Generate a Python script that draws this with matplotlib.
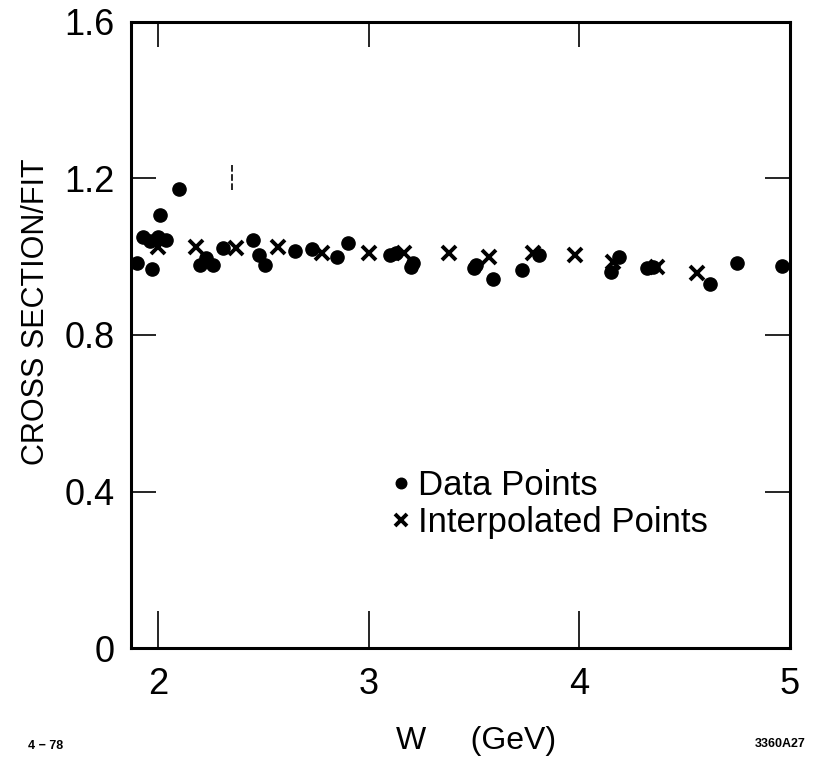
import matplotlib
matplotlib.use("Agg")
import matplotlib.pyplot as plt

plt.rcParams['font.family'] = ['Liberation Sans', 'DejaVu Sans']

# measured points (W in GeV, cross section / fit)
data_w = [1.90, 1.93, 1.96, 1.97, 2.00, 2.01, 2.04, 2.10, 2.20, 2.23, 2.26,
          2.31, 2.45, 2.48, 2.51, 2.65, 2.73, 2.85, 2.90, 3.10, 3.13, 3.20,
          3.21, 3.50, 3.51, 3.59, 3.73, 3.81, 4.15, 4.19, 4.32, 4.35, 4.62,
          4.75, 4.96]
data_r = [0.985, 1.05, 1.04, 0.968, 1.05, 1.107, 1.043, 1.173, 0.979, 0.997,
          0.979, 1.022, 1.043, 1.004, 0.979, 1.015, 1.02, 1.0, 1.035, 1.004,
          1.01, 0.975, 0.984, 0.97, 0.979, 0.943, 0.966, 1.004, 0.961, 1.0,
          0.971, 0.974, 0.930, 0.984, 0.976]

# interpolated points
interp_w = [2.00, 2.18, 2.37, 2.57, 2.78, 3.00, 3.17, 3.38, 3.57, 3.78,
            3.98, 4.16, 4.37, 4.56]
interp_r = [1.025, 1.025, 1.022, 1.025, 1.01, 1.01, 1.01, 1.01, 1.0, 1.01,
            1.004, 0.987, 0.974, 0.958]

# short stray mark above the points
stray_w = [2.35]
stray_lo = [1.17]
stray_hi = [1.24]

x_ticks = [2, 3, 4, 5]
y_ticks = [0, 0.4, 0.8, 1.2, 1.6]
y_ticklabels = ['0', '0.4', '0.8', '1.2', '1.6']

fig = plt.figure(figsize=(8.14, 7.58), dpi=100)
ax = fig.add_axes([0.161, 0.1451, 0.8095, 0.8259])

ax.plot(data_w, data_r, 'o', color='black', markersize=9.5, label='Data Points')
ax.plot(interp_w, interp_r, 'x', color='black', markersize=10, mew=2.8,
        label='Interpolated Points')
ax.vlines(stray_w, stray_lo, stray_hi, colors='black', linewidth=1.2,
          linestyles=(0, (4, 1.5)))

ax.set_xlim(1.872, 5.0)
ax.set_ylim(0, 1.6)
ax.set_xticks(x_ticks)
ax.set_yticks(y_ticks)
ax.set_yticklabels(y_ticklabels)

for s in ax.spines.values():
    s.set_linewidth(2.2)

ax.tick_params(axis='both', direction='in', width=1.2, labelsize=26,
               top=True, right=True)
ax.tick_params(axis='x', length=18, pad=14)
ax.tick_params(axis='y', length=18, pad=12)
# longer ticks along the bottom edge
for t in ax.xaxis.get_major_ticks():
    t.tick1line.set_markersize(27)

ax.set_xlabel('W     (GeV)', fontsize=23)
ax.xaxis.set_label_coords(0.523, -0.124)
ax.set_ylabel('CROSS SECTION/FIT', fontsize=22)
ax.yaxis.set_label_coords(-0.122, 0.537)

leg = ax.legend(loc='upper left', bbox_to_anchor=(0.396, 0.286),
                frameon=False, fontsize=25, handlelength=0.5,
                handletextpad=0.25, borderpad=0, borderaxespad=0,
                labelspacing=0.12, markerscale=0.8)

fig.text(0.035, 0.012, '4 \u2212 78', fontsize=9, fontweight='bold')
fig.text(0.99, 0.015, '3360A27', fontsize=9, fontweight='bold', ha='right')

fig.savefig('out.png', dpi=100)
